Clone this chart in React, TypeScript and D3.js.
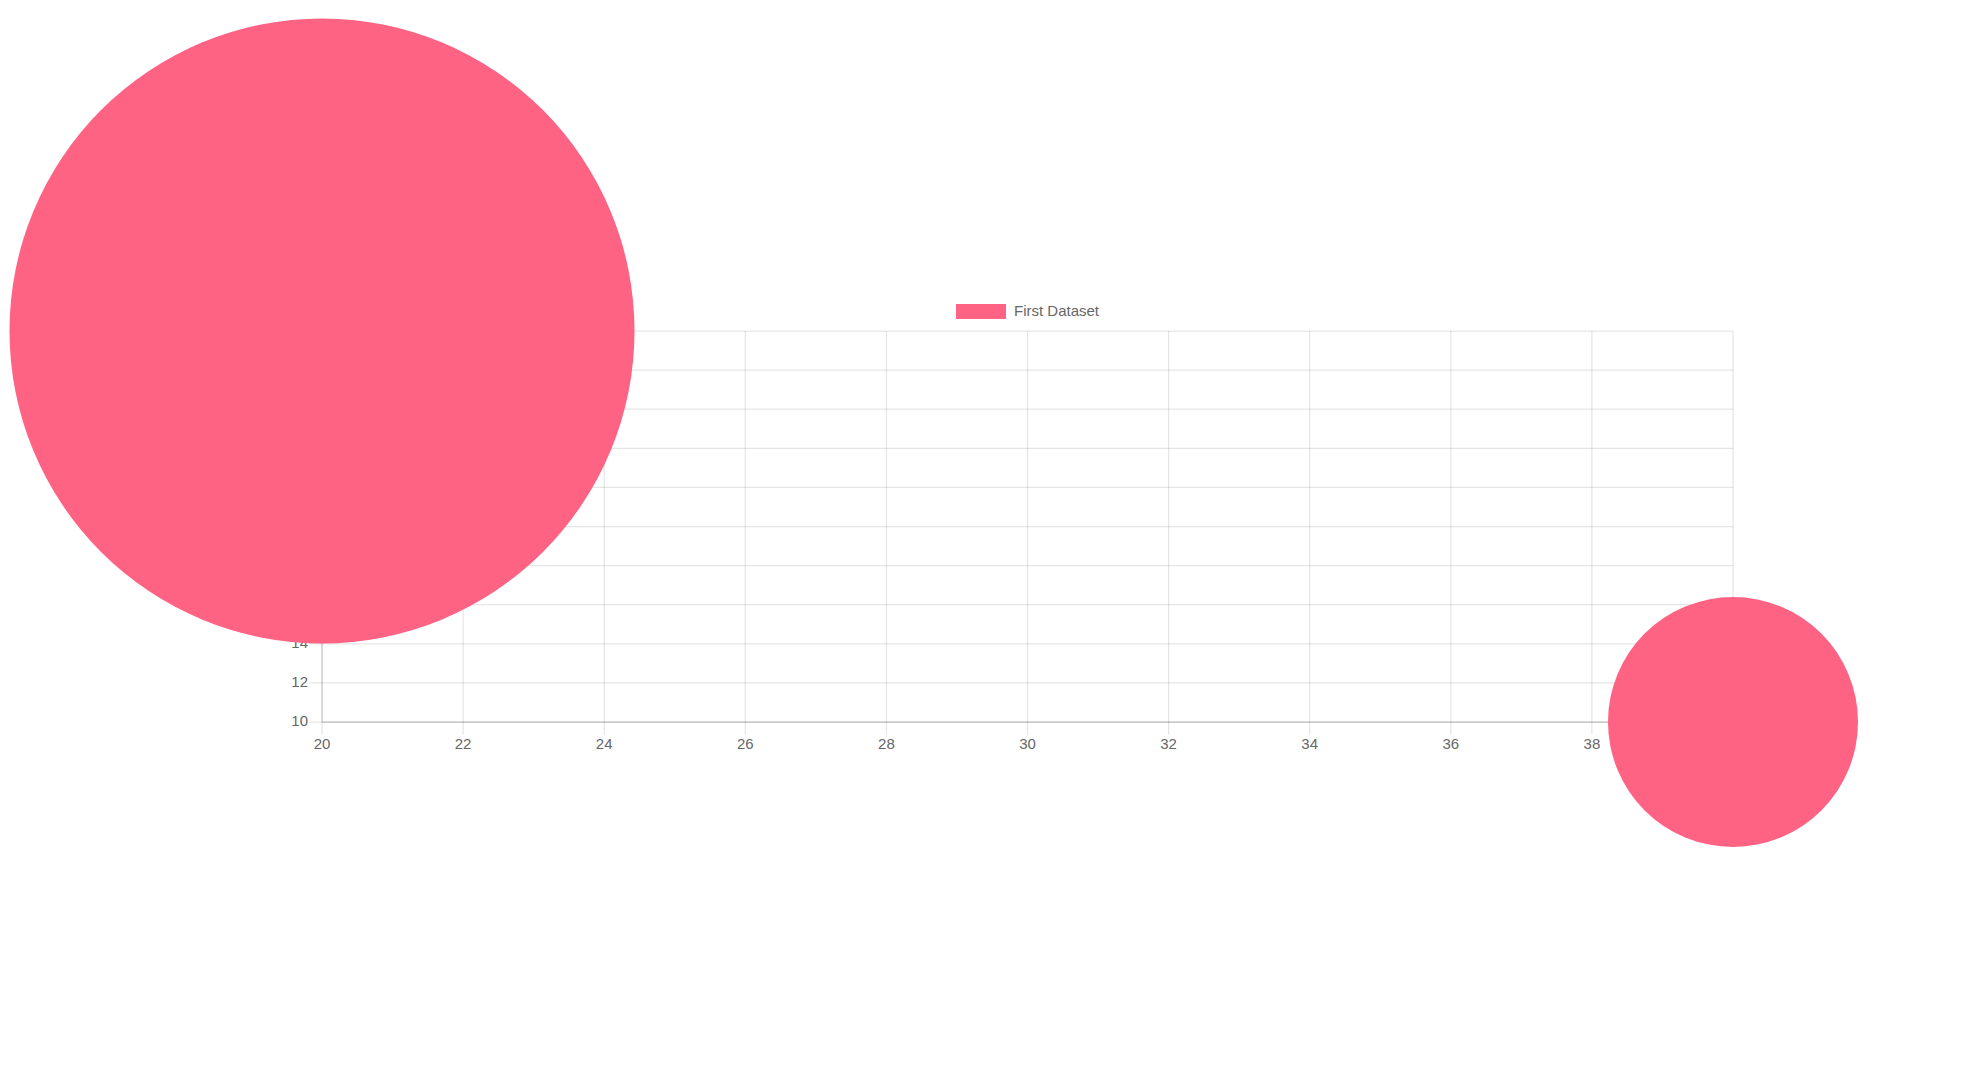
import { useEffect, useRef } from 'react';
import * as d3 from 'd3';

const X_VALUES = [20, 40];
const Y_VALUES = [30, 10];
const R_VALUES = [250, 100];
const X_TICKS = [20, 22, 24, 26, 28, 30, 32, 34, 36, 38, 40];
const Y_TICKS = [10, 12, 14, 16, 18, 20, 22, 24, 26, 28, 30];
const SERIES_LABEL = 'First Dataset';

const WIDTH = 1972;
const HEIGHT = 1065;
const FONT = "'Helvetica Neue', Helvetica, Arial, sans-serif";
const BUBBLE_COLOR = 'rgb(255, 99, 132)';

export default function App() {
  const svgRef = useRef<SVGSVGElement>(null);

  useEffect(() => {
    if (!svgRef.current) return;
    const svg = d3.select(svgRef.current);
    svg.selectAll('*').remove();

    const left = 322;
    const right = 1733;
    const top = 331;
    const bottom = 722;
    const tickLen = 12.5;

    const x = d3.scaleLinear().domain([20, 40]).range([left, right]);
    const y = d3.scaleLinear().domain([10, 30]).range([bottom, top]);
    const r = d3.scaleLinear().domain([0, 100]).range([0, 125]);

    // grid lines
    const grid = svg.append('g').attr('stroke', 'rgba(0,0,0,0.1)').attr('stroke-width', 1.25);
    X_TICKS.forEach((t) => {
      grid.append('line')
        .attr('x1', x(t)).attr('x2', x(t))
        .attr('y1', top).attr('y2', bottom + tickLen);
    });
    Y_TICKS.forEach((t) => {
      grid.append('line')
        .attr('x1', left - tickLen).attr('x2', right)
        .attr('y1', y(t)).attr('y2', y(t));
    });

    // axis border lines
    svg.append('line')
      .attr('x1', left).attr('x2', right)
      .attr('y1', bottom).attr('y2', bottom)
      .attr('stroke', 'rgba(0,0,0,0.2)').attr('stroke-width', 1.25);
    svg.append('line')
      .attr('x1', left).attr('x2', left)
      .attr('y1', top).attr('y2', bottom)
      .attr('stroke', 'rgba(0,0,0,0.15)').attr('stroke-width', 1.25);

    // tick labels
    svg.append('g').selectAll('text')
      .data(X_TICKS)
      .join('text')
      .attr('x', (d) => x(d))
      .attr('y', bottom + 26.5)
      .attr('text-anchor', 'middle')
      .attr('font-family', FONT)
      .attr('font-size', '15px')
      .attr('fill', '#666')
      .text((d) => d);

    svg.append('g').selectAll('text')
      .data(Y_TICKS)
      .join('text')
      .attr('x', left - 14)
      .attr('y', (d) => y(d) + 4)
      .attr('text-anchor', 'end')
      .attr('font-family', FONT)
      .attr('font-size', '15px')
      .attr('fill', '#666')
      .text((d) => d);

    // legend
    const legendTextWidth = 85;
    const legendWidth = 50 + 8 + legendTextWidth;
    const legendX = (left + right) / 2 - legendWidth / 2;
    svg.append('rect')
      .attr('x', legendX).attr('y', 304)
      .attr('width', 50).attr('height', 15)
      .attr('fill', BUBBLE_COLOR);
    svg.append('text')
      .attr('x', legendX + 58)
      .attr('y', 316)
      .attr('font-family', FONT)
      .attr('font-size', '15px')
      .attr('fill', '#666')
      .text(SERIES_LABEL);

    // bubbles
    svg.append('g').selectAll('circle')
      .data(X_VALUES.map((v, i) => ({ x: v, y: Y_VALUES[i], r: R_VALUES[i] })))
      .join('circle')
      .attr('cx', (d) => x(d.x))
      .attr('cy', (d) => y(d.y))
      .attr('r', (d) => r(d.r))
      .attr('fill', BUBBLE_COLOR);
  }, []);

  return (
    <svg
      ref={svgRef}
      width={WIDTH}
      height={HEIGHT}
      viewBox={`0 0 ${WIDTH} ${HEIGHT}`}
      style={{ position: 'absolute', left: 0, top: 0, background: '#fff' }}
    />
  );
}
